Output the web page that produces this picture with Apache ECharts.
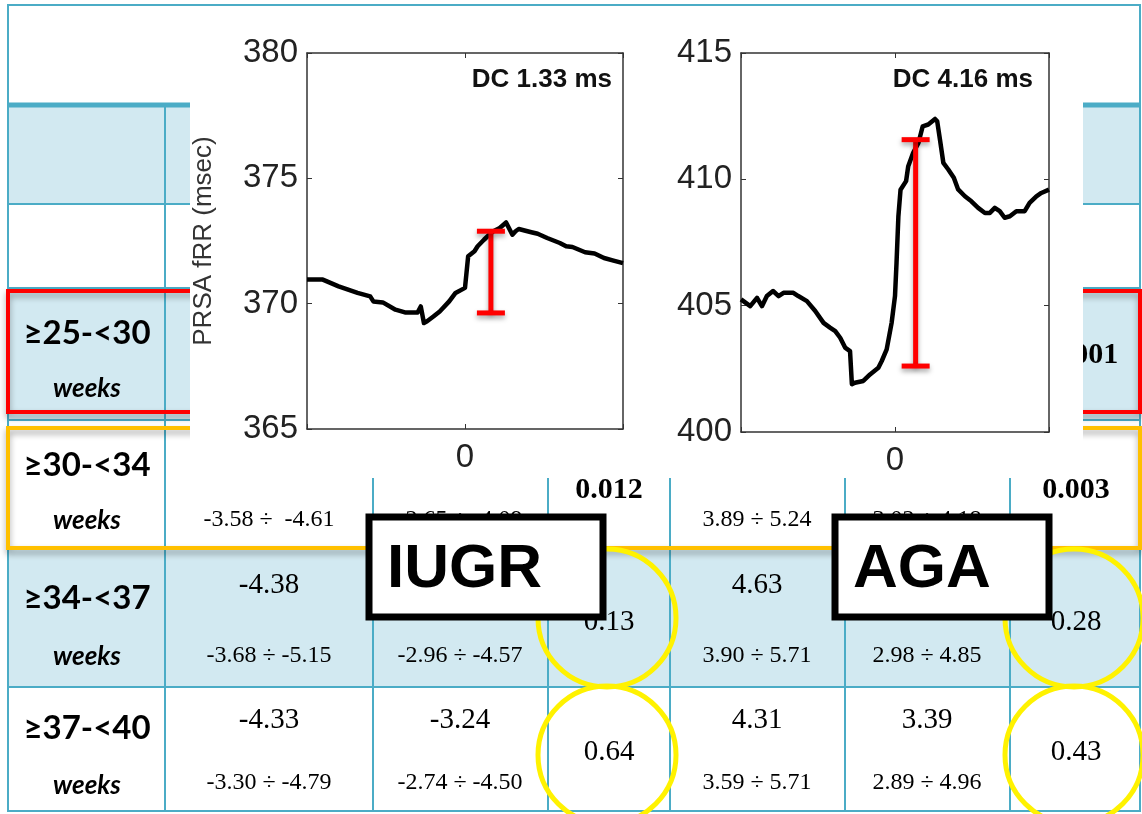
<!DOCTYPE html>
<html><head><meta charset="utf-8">
<script src="https://cdn.jsdelivr.net/npm/echarts@6/dist/echarts.min.js"></script>
<style>html,body{margin:0;padding:0;background:#fff}#chart{width:1142px;height:814px}</style>
</head><body><div id="chart"></div><script>
// PRSA fRR traces (x: samples around the anchor, y: msec)
const iugrX = [-50,-45,-40,-34,-30,-29,-26,-22,-19,-15,-14,-13,-12,-10,-8,-5,-3,0,1,3,4,6,8,9,11,13,15,16,17,21,23,26,30,32,34,38,41,44,47,50];
const iugrY = [370.96,370.96,370.69,370.43,370.29,370.09,370.05,369.76,369.65,369.65,369.89,369.23,369.30,369.49,369.69,370.09,370.43,370.63,371.89,372.09,372.29,372.55,372.79,372.89,373.02,373.24,372.75,372.89,372.98,372.85,372.79,372.62,372.42,372.29,372.26,372.05,372.00,371.82,371.72,371.62];
const agaX = [-50,-47.0,-44.8,-43.2,-41.6,-39.6,-37.8,-36.2,-33.0,-31.4,-28.6,-25.9,-23.2,-21.1,-19.4,-17.8,-16.2,-14.6,-14.0,-13.0,-10.3,-8.1,-5.4,-4.3,-2.7,-1.1,0,0.5,1.1,1.8,3.6,4.3,5.9,7.6,9.0,10.8,13.0,13.7,14.6,15.7,17.3,19.1,20.5,22.7,24.8,27.0,29.2,30.8,32.4,34.0,35.6,37.3,39.4,42.1,43.7,45.9,47.5,50];
const agaY = [405.25,404.98,405.31,404.98,405.38,405.58,405.38,405.51,405.51,405.38,405.18,404.79,404.32,404.13,403.99,403.73,403.34,403.20,401.89,401.95,402.02,402.28,402.54,402.81,403.27,404.32,405.38,406.70,408.54,409.59,409.93,410.52,411.05,411.44,412.10,412.17,412.39,412.30,411.57,410.65,410.39,410.06,409.60,409.33,409.13,408.87,408.67,408.67,408.87,408.74,408.48,408.54,408.74,408.74,409.07,409.33,409.46,409.59];
// deceleration span markers: [x, low, high]
const iugrSpan = [8.2, 369.63, 372.89];
const agaSpan = [6.7, 402.61, 411.57];
const iugrRange = [365, 380];
const agaRange = [400, 415];
const iugrDC = 'DC 1.33 ms';
const agaDC = 'DC 4.16 ms';
const yName = 'PRSA fRR (msec)';
const xTickLabel = '0';

// table text
const rowLabels = ['≥25-<30', '≥30-<34', '≥34-<37', '≥37-<40'];
const rowUnit = 'weeks';
const rangeRow30 = ['-3.58 ÷  -4.61', '-2.65 ÷ -4.09', '3.89 ÷ 5.24', '3.02 ÷ 4.18'];
const meanRow34 = ['-4.38', '', '4.63', ''];
const rangeRow34 = ['-3.68 ÷ -5.15', '-2.96 ÷ -4.57', '3.90 ÷ 5.71', '2.98 ÷ 4.85'];
const meanRow37 = ['-4.33', '-3.24', '4.31', '3.39'];
const rangeRow37 = ['-3.30 ÷ -4.79', '-2.74 ÷ -4.50', '3.59 ÷ 5.71', '2.89 ÷ 4.96'];
const pIugr = ['', '0.012', '0.13', '0.64'];
const pAga = ['<0.001', '0.003', '0.28', '0.43'];
const groupNames = ['IUGR', 'AGA'];

const BLUE = '#4bacc6', FILL = '#d2e9f1';
const SERIF = '"Liberation Serif", "DejaVu Serif", serif';
const SANS = '"Liberation Sans", Arial, sans-serif';
const g = [];
const BG = -20;

// table body
[[105, 204], [288, 420], [548, 687]].forEach(([a, b]) => g.push({type:'rect', z:BG, shape:{x:8,y:a,width:1132,height:b-a}, style:{fill:FILL}}));
[204, 288, 420, 548, 687].forEach(y => g.push({type:'line', z:BG, shape:{x1:8,y1:y,x2:1140,y2:y}, style:{stroke:BLUE,lineWidth:2}}));
g.push({type:'line', z:BG, shape:{x1:8,y1:105,x2:1140,y2:105}, style:{stroke:BLUE,lineWidth:5}});
[165, 373, 548, 670, 845, 1010].forEach(x => g.push({type:'line', z:BG, shape:{x1:x,y1:105,x2:x,y2:811}, style:{stroke:BLUE,lineWidth:2}}));
g.push({type:'rect', z:BG, shape:{x:8,y:5,width:1132,height:806}, style:{fill:'none',stroke:BLUE,lineWidth:2}});

function txt(x, y, s, font) {
  g.push({type:'text', z:BG, x:x, y:y, style:{text:s, font:font, fill:'#000', align:'center', verticalAlign:'middle'}});
}
const labelY = [[333, 389], [465, 521], [598, 657], [728, 786]];
rowLabels.forEach((s, i) => {
  txt(87, labelY[i][0], s, 'bold 33px Lato, sans-serif');
  txt(87, labelY[i][1], rowUnit, 'italic bold 26px Lato, sans-serif');
});
const colX = [269, 460, 757, 927];
rangeRow30.forEach((s, i) => txt(colX[i], 520, s, '24px ' + SERIF));
meanRow34.forEach((s, i) => s && txt(colX[i], 585, s, '29px ' + SERIF));
rangeRow34.forEach((s, i) => txt(colX[i], 656, s, '24px ' + SERIF));
meanRow37.forEach((s, i) => txt(colX[i], 720, s, '29px ' + SERIF));
rangeRow37.forEach((s, i) => txt(colX[i], 783, s, '24px ' + SERIF));
const pY = [355, 490, 622, 752];
pIugr.forEach((s, i) => s && txt(609, pY[i], s, (i < 2 ? 'bold 30px ' : '29px ') + SERIF));
pAga.forEach((s, i) => s && txt(1076, pY[i], s, (i < 2 ? 'bold 30px ' : '29px ') + SERIF));

// highlighted age bands
const shadow = {shadowBlur:6, shadowColor:'rgba(0,0,0,0.35)', shadowOffsetY:4};
g.push({type:'rect', z:BG, shape:{x:8,y:291,width:1132,height:121}, style:Object.assign({fill:'none',stroke:'#ff0000',lineWidth:4}, shadow)});
g.push({type:'rect', z:BG, shape:{x:8,y:428,width:1132,height:120}, style:Object.assign({fill:'none',stroke:'#ffc000',lineWidth:4}, shadow)});

// white panel behind the two traces
g.push({type:'rect', z:BG, shape:{x:190,y:10,width:893,height:468}, style:{fill:'#fff'}});

// DC labels
g.push({type:'text', z:10, x:612, y:80, style:{text:iugrDC, font:'bold 26px ' + SANS, fill:'#111', align:'right', verticalAlign:'middle'}});
g.push({type:'text', z:10, x:1033, y:80, style:{text:agaDC, font:'bold 26px ' + SANS, fill:'#111', align:'right', verticalAlign:'middle'}});

// p-value rings
[[607, 618], [607, 755], [1074, 618], [1074, 755]].forEach(([cx, cy]) =>
  g.push({type:'circle', z:40, shape:{cx:cx, cy:cy, r:69}, style:{fill:'none', stroke:'#fff200', lineWidth:5}}));

// group captions
[[369, 517, 234, 100], [835, 517, 214, 100]].forEach(([x, y, w, h], i) => {
  g.push({type:'rect', z:50, shape:{x:x,y:y,width:w,height:h}, style:{fill:'#fff', stroke:'#000', lineWidth:7}});
  g.push({type:'text', z:51, x:x + 18, y:y + 53, style:{text:groupNames[i], font:'bold 62px ' + SANS, fill:'#000', align:'left', verticalAlign:'middle'}});
});

const axisCol = '#333';
function xAx(grid, pos) {
  return {type:'value', gridIndex:grid, position:pos, min:-50, max:50, interval:50,
    axisLine:{show:true, onZero:false, lineStyle:{color:axisCol, width:1.5}},
    axisTick:{show:true, inside:true, length:5, lineStyle:{color:axisCol}},
    splitLine:{show:false},
    axisLabel:{show:pos === 'bottom', margin:12, fontSize:33, fontFamily:SANS, color:'#222',
      formatter: v => (v === 0 ? xTickLabel : '')}};
}
function yAx(grid, pos, r, named) {
  return {type:'value', gridIndex:grid, position:pos, min:r[0], max:r[1], interval:5,
    name: named ? yName : '', nameLocation:'middle', nameGap:90, nameRotate:90,
    nameTextStyle:{fontSize:26, fontFamily:SANS, color:'#333'},
    axisLine:{show:true, onZero:false, lineStyle:{color:axisCol, width:1.5}},
    axisTick:{show:true, inside:true, length:5, lineStyle:{color:axisCol}},
    splitLine:{show:false},
    axisLabel:{show:pos === 'left', margin:9, fontSize:33, fontFamily:SANS, color:'#222'}};
}
function zip(a, b) { return a.map((v, i) => [v, b[i]]); }
function spanItem(params, api) {
  const x = api.value(0);
  const lo = api.coord([x, api.value(1)]);
  const hi = api.coord([x, api.value(2)]);
  const st = {stroke:'#ff0000', lineWidth:5, shadowBlur:5, shadowColor:'rgba(0,0,0,0.35)', shadowOffsetY:3};
  return {type:'group', children:[
    {type:'line', shape:{x1:lo[0], y1:lo[1], x2:hi[0], y2:hi[1]}, style:st},
    {type:'line', shape:{x1:lo[0]-14, y1:lo[1], x2:lo[0]+14, y2:lo[1]}, style:st},
    {type:'line', shape:{x1:hi[0]-14, y1:hi[1], x2:hi[0]+14, y2:hi[1]}, style:st}
  ]};
}

const chart = echarts.init(document.getElementById('chart'), null, {renderer:'canvas'});
chart.setOption({
  animation:false,
  backgroundColor:'#fff',
  graphic:g,
  grid:[
    {left:307, top:53, width:316, height:376},
    {left:741, top:53, width:308, height:379}
  ],
  xAxis:[xAx(0, 'bottom'), xAx(0, 'top'), xAx(1, 'bottom'), xAx(1, 'top')],
  yAxis:[yAx(0, 'left', iugrRange, true), yAx(0, 'right', iugrRange, false),
         yAx(1, 'left', agaRange, false), yAx(1, 'right', agaRange, false)],
  series:[
    {type:'line', xAxisIndex:0, yAxisIndex:0, data:zip(iugrX, iugrY), showSymbol:false, symbol:'none',
      lineStyle:{color:'#000', width:4.5, join:'round'}, z:3},
    {type:'line', xAxisIndex:2, yAxisIndex:2, data:zip(agaX, agaY), showSymbol:false, symbol:'none',
      lineStyle:{color:'#000', width:4.5, join:'round'}, z:3},
    {type:'custom', xAxisIndex:0, yAxisIndex:0, data:[iugrSpan], renderItem:spanItem, z:5},
    {type:'custom', xAxisIndex:2, yAxisIndex:2, data:[agaSpan], renderItem:spanItem, z:5}
  ]
});
</script></body></html>
